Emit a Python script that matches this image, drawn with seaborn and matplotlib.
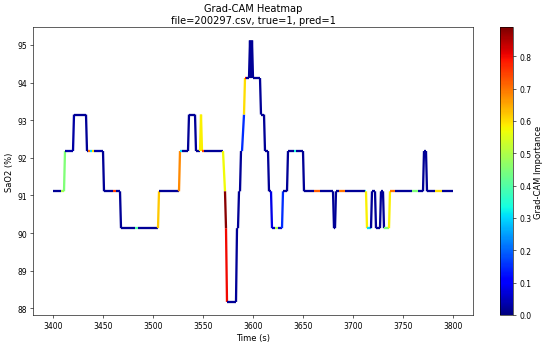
import numpy as np
import seaborn as sns
import matplotlib.pyplot as plt
from matplotlib.collections import LineCollection
from matplotlib.colors import Normalize

# Breakpoints of the SaO2 trace (time in s, SaO2 in %)
time = [3400, 3408, 3411, 3412, 3420, 3421, 3433, 3434, 3435, 3437, 3439, 3441, 3450,
        3451, 3460, 3463, 3467, 3468, 3482, 3485, 3505, 3506, 3526, 3527, 3529, 3535,
        3536, 3542, 3543, 3547, 3548, 3549, 3551, 3570, 3572, 3573, 3574, 3583, 3584,
        3585, 3586, 3587, 3588, 3589, 3591, 3592, 3593, 3596, 3597, 3598, 3599, 3600,
        3607, 3608, 3611, 3612, 3615, 3616, 3618, 3619, 3622, 3625, 3629, 3630, 3634,
        3635, 3641, 3643, 3650, 3651, 3661, 3667, 3680, 3681, 3682, 3683, 3686, 3692,
        3712, 3713, 3714, 3718, 3719, 3722, 3723, 3727, 3728, 3730, 3731, 3736, 3737,
        3742, 3759, 3765, 3770, 3771, 3773, 3774, 3782, 3789, 3800]
sao2 = [91.11, 91.11, 91.11, 92.18, 92.18, 93.15, 93.15, 92.18, 92.18, 92.18, 92.18, 92.18, 92.18,
        91.11, 91.11, 91.11, 91.11, 90.13, 90.13, 90.13, 90.13, 91.11, 91.11, 92.18, 92.18, 92.18,
        93.15, 93.15, 92.18, 92.18, 93.15, 92.18, 92.18, 92.18, 91.11, 90.13, 88.17, 88.17, 90.13,
        90.13, 91.11, 91.11, 92.18, 92.18, 93.15, 94.12, 94.12, 94.12, 95.12, 94.12, 95.12, 94.12,
        94.12, 93.15, 93.15, 92.18, 92.18, 91.11, 91.11, 90.13, 90.13, 90.13, 90.13, 91.11, 91.11,
        92.18, 92.18, 92.18, 92.18, 91.11, 91.11, 91.11, 91.11, 90.13, 90.13, 91.11, 91.11, 91.11,
        91.11, 91.11, 90.13, 90.13, 91.11, 91.11, 90.13, 90.13, 91.11, 91.11, 90.13, 90.13, 91.11,
        91.11, 91.11, 91.11, 91.11, 92.18, 92.18, 91.11, 91.11, 91.11, 91.11]
# Grad-CAM importance of the segment starting at each breakpoint
cam = [0.02, 0.5, 0.45, 0.03, 0.03, 0.02, 0.02, 0.02, 0.7, 0.3, 0.6, 0.03, 0.02,
       0.02, 0.75, 0.02, 0.02, 0.02, 0.4, 0.02, 0.62, 0.02, 0.68, 0.3, 0.02, 0.02,
       0.02, 0.02, 0.02, 0.58, 0.58, 0.75, 0.02, 0.57, 0.88, 0.8, 0.02, 0.02, 0.02,
       0.02, 0.02, 0.02, 0.02, 0.15, 0.6, 0.8, 0.02, 0.02, 0.02, 0.02, 0.02, 0.02,
       0.02, 0.02, 0.02, 0.02, 0.02, 0.02, 0.08, 0.05, 0.5, 0.05, 0.15, 0.02, 0.02,
       0.02, 0.35, 0.02, 0.02, 0.02, 0.72, 0.02, 0.02, 0.02, 0.02, 0.02, 0.7, 0.02,
       0.35, 0.58, 0.3, 0.02, 0.02, 0.02, 0.02, 0.02, 0.02, 0.02, 0.45, 0.58, 0.7,
       0.02, 0.45, 0.02, 0.02, 0.02, 0.02, 0.02, 0.6, 0.02]
cam_max = 0.889

sns.set_style('ticks')
plt.rcParams['font.family'] = ['DejaVu Sans']
plt.rcParams['axes.edgecolor'] = 'black'
plt.rcParams['xtick.color'] = 'black'
plt.rcParams['ytick.color'] = 'black'
plt.rcParams['text.color'] = 'black'
plt.rcParams['axes.labelcolor'] = 'black'
plt.rcParams['xtick.labelsize'] = 10
plt.rcParams['ytick.labelsize'] = 10
plt.rcParams['xtick.major.size'] = 4.5
plt.rcParams['ytick.major.size'] = 4.5

cmap = plt.get_cmap('jet')

pts = np.column_stack([time, sao2]).reshape(-1, 1, 2)
segs = np.concatenate([pts[:-1], pts[1:]], axis=1)

fig = plt.figure(figsize=(10, 6.29), dpi=55)
ax = fig.add_axes([0.06, 0.0867, 0.8, 0.8315])
cax = fig.add_axes([0.909, 0.0867, 0.0236, 0.8315])

lc = LineCollection(segs, cmap=cmap, norm=Normalize(0, cam_max), linewidth=3)
lc.set_array(np.array(cam))
ax.add_collection(lc)
ax.autoscale()

ax.set_title('Grad-CAM Heatmap\nfile=200297.csv, true=1, pred=1', fontsize=13)
ax.set_xlabel('Time (s)', fontsize=11)
ax.set_ylabel('SaO2 (%)', fontsize=11)

cb = fig.colorbar(lc, cax=cax)
cb.set_label('Grad-CAM Importance', fontsize=11)

fig.savefig('out.png', dpi=55)
